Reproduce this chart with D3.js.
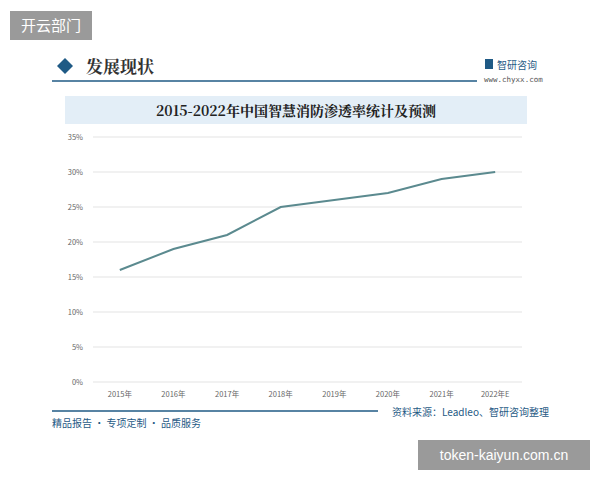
<!DOCTYPE html><html><head><meta charset="utf-8"><script src="https://cdn.jsdelivr.net/npm/d3@7"></script>
<style>body{margin:0;background:#fff}</style></head><body><svg id="c" width="600" height="480"></svg>
<script>
const categories=["2015年","2016年","2017年","2018年","2019年","2020年","2021年","2022年E"];
const values=[16,19,21,25,26,27,29,30];
const yTicks=[0,5,10,15,20,25,30,35];
const svg=d3.select("#c");
const F="'Noto Sans CJK SC',sans-serif";
svg.append("rect").attr("x",10).attr("y",11).attr("width",82).attr("height",29).attr("fill","#9a9a9a");
svg.append("text").attr("x",51).attr("y",31).attr("text-anchor","middle").attr("fill","#fff").attr("font-size",15).attr("font-family",F).text("开云部门");
svg.append("path").attr("d","M57,66 l8,-8 l8,8 l-8,8z").attr("fill","#1f5a85");
svg.append("text").attr("x",86).attr("y",73).attr("font-size",17).attr("font-family","'Noto Serif CJK SC','Noto Sans CJK SC',serif").attr("font-weight","bold").attr("fill","#333").text("发展现状");
svg.append("line").attr("x1",52).attr("x2",477).attr("y1",81).attr("y2",81).attr("stroke","#1f5a85").attr("stroke-width",1.5);
svg.append("rect").attr("x",485).attr("y",59).attr("width",8).attr("height",10).attr("fill","#1f5a85");
svg.append("text").attr("x",497).attr("y",69).attr("font-size",10).attr("font-family",F).attr("fill","#1f5a85").text("智研咨询");
svg.append("text").attr("x",484).attr("y",82).attr("font-size",7.5).attr("font-family","'DejaVu Sans Mono',monospace").attr("fill","#555").text("www.chyxx.com");
svg.append("rect").attr("x",65).attr("y",96).attr("width",462).attr("height",28).attr("fill","#e3eef7");
svg.append("text").attr("x",296).attr("y",116).attr("text-anchor","middle").attr("font-size",14).attr("font-weight","bold").attr("font-family","'Noto Serif CJK SC','Noto Sans CJK SC',serif").attr("fill","#222").text("2015-2022年中国智慧消防渗透率统计及预测");
const x=d3.scaleBand().domain(categories).range([93,522]);
const y=d3.scaleLinear().domain([0,35]).range([382,137]);
const g=svg.append("g");
g.selectAll("line.grid").data(yTicks).join("line").attr("x1",93).attr("x2",522).attr("y1",d=>y(d)).attr("y2",d=>y(d)).attr("stroke","#e3e3e3");
g.selectAll("text.yt").data(yTicks).join("text").attr("x",83).attr("y",d=>y(d)+3).attr("text-anchor","end").attr("font-size",7.5).attr("font-family",F).attr("fill","#666").text(d=>d+"%");
g.selectAll("text.xt").data(categories).join("text").attr("x",d=>x(d)+x.bandwidth()/2).attr("y",397).attr("text-anchor","middle").attr("font-size",7.5).attr("font-family",F).attr("fill","#666").text(d=>d);
const line=d3.line().x((d,i)=>x(categories[i])+x.bandwidth()/2).y(d=>y(d));
g.append("path").datum(values).attr("d",line).attr("fill","none").attr("stroke","#5b8a8f").attr("stroke-width",2);
svg.append("line").attr("x1",52).attr("x2",378).attr("y1",411).attr("y2",411).attr("stroke","#1f5a85").attr("stroke-width",1.5);
svg.append("text").attr("x",392).attr("y",416).attr("font-size",10).attr("font-family",F).attr("fill","#1f5a85").text("资料来源：Leadleo、智研咨询整理");
svg.append("text").attr("x",52).attr("y",427).attr("font-size",10).attr("font-family",F).attr("fill","#1f5a85").text("精品报告 · 专项定制 · 品质服务");
svg.append("rect").attr("x",418).attr("y",440).attr("width",172).attr("height",30).attr("fill","#9a9a9a");
svg.append("text").attr("x",504).attr("y",460).attr("text-anchor","middle").attr("fill","#fff").attr("font-size",14).attr("font-family","'Liberation Sans',sans-serif").text("token-kaiyun.com.cn");
</script></body></html>
